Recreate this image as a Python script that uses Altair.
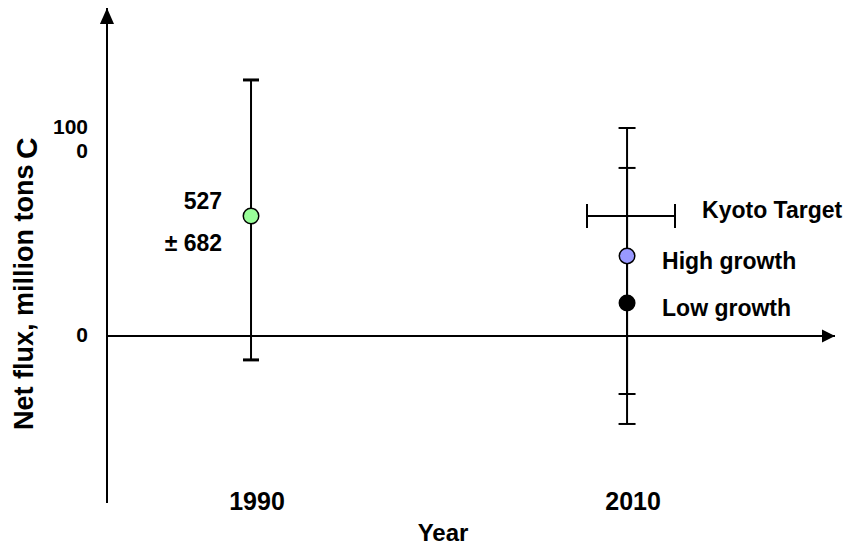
import altair as alt
import pandas as pd

# ---- axis extents (data units) ----
x_domain = [1982.34, 2021.06]
y_domain = [-803, 1577]

# ---- category / tick labels ----
years = [1990, 2010]
year_labels = ["1990", "2010"]
y_tick_values = [0, 1000]
y_tick_labels = ["0", "100\n0"]
x_title = "Year"
y_title_main = "Net flux, million tons"
y_title_unit = "C"

# ---- 1990 estimate ----
base_year = 1990
base_value = 577
base_lo = -115
base_hi = 1231
base_label = "527\n± 682"

# ---- 2010 scenarios ----
scen_year = 2010
scen_names = ["High growth", "Low growth"]
scen_values = [385, 159]
scen_lo = [-279, -423]
scen_hi = [1000, 808]
scen_fill = ["#9999ff", "#000000"]

# ---- Kyoto target ----
kyoto_label = "Kyoto Target"
kyoto_value = 577
kyoto_x_lo = 2007.87
kyoto_x_hi = 2012.55

FONT = "Liberation Sans"

xs = alt.Scale(domain=x_domain, nice=False, zero=False)
ys = alt.Scale(domain=y_domain, nice=False, zero=False)


def X(f="x"):
    return alt.X(f"{f}:Q", scale=xs, axis=None)


def Y(f="y"):
    return alt.Y(f"{f}:Q", scale=ys, axis=None)


# axis lines
axes_df = pd.DataFrame({
    "x": [x_domain[0], x_domain[0]],
    "x2": [x_domain[0], x_domain[1]],
    "y": [y_domain[0], 0],
    "y2": [y_domain[1], 0],
})
axes = alt.Chart(axes_df).mark_rule(color="black", strokeWidth=2).encode(
    x=X(), x2="x2:Q", y=Y(), y2="y2:Q")

arrow_up = alt.Chart(pd.DataFrame({"x": [x_domain[0]], "y": [y_domain[1]]})).mark_point(
    shape="M0,0L-0.44,1L0.44,1Z", size=1024, filled=True, color="black", opacity=1
).encode(x=X(), y=Y())
arrow_right = alt.Chart(pd.DataFrame({"x": [x_domain[1]], "y": [0]})).mark_point(
    shape="M0,0L-1,-0.5L-1,0.5Z", size=676, filled=True, color="black", opacity=1
).encode(x=X(), y=Y())

# y tick labels
ytick_df = pd.DataFrame({"x": [x_domain[0]] * len(y_tick_values), "y": y_tick_values, "t": y_tick_labels})
yticks = alt.Chart(ytick_df).mark_text(
    align="right", baseline="middle", dx=-19, fontSize=21, fontWeight="bold", font=FONT,
    lineBreak="\n", lineHeight=24, color="black"
).encode(x=X(), y=Y(), text="t:N")

# x tick labels
xtick_df = pd.DataFrame({"x": years, "y": [y_domain[0]] * len(years), "t": year_labels})
xticks = alt.Chart(xtick_df).mark_text(
    align="center", baseline="alphabetic", dx=6, dy=7, fontSize=25, fontWeight="bold",
    font=FONT, color="black"
).encode(x=X(), y=Y(), text="t:N")

# axis titles
title_df = pd.DataFrame({"x": [sum(years) / len(years)], "y": [y_domain[0]], "t": [x_title]})
xtitle = alt.Chart(title_df).mark_text(
    align="center", baseline="alphabetic", dx=4, dy=38, fontSize=24, fontWeight="bold",
    font=FONT, color="black"
).encode(x=X(), y=Y(), text="t:N")

ytitle_df = pd.DataFrame({"x": [x_domain[0]], "y": [y_domain[0]], "t": [y_title_main]})
ytitle = alt.Chart(ytitle_df).mark_text(
    align="left", baseline="alphabetic", angle=270, dx=73, dy=-74, fontSize=27,
    fontWeight="bold", font=FONT, color="black"
).encode(x=X(), y=Y(), text="t:N")
yunit_df = pd.DataFrame({"x": [x_domain[0]], "y": [y_domain[0]], "t": [y_title_unit]})
yunit = alt.Chart(yunit_df).mark_text(
    align="left", baseline="alphabetic", angle=270, dx=344, dy=-70, fontSize=30,
    fontWeight="bold", font=FONT, color="black"
).encode(x=X(), y=Y(), text="t:N")

# error bars
bars_df = pd.DataFrame({
    "x": [base_year] + [scen_year] * len(scen_names),
    "lo": [base_lo] + scen_lo,
    "hi": [base_hi] + scen_hi,
})
bars = alt.Chart(bars_df).mark_rule(color="black", strokeWidth=2).encode(
    x=X(), y=Y("lo"), y2="hi:Q")

caps1990_df = pd.DataFrame({"x": [base_year, base_year], "y": [base_lo, base_hi]})
caps1990 = alt.Chart(caps1990_df).mark_tick(
    orient="horizontal", size=16, thickness=3, color="black", opacity=1
).encode(x=X(), y=Y())

caps2010_df = pd.DataFrame({"x": [scen_year] * 4, "y": scen_lo + scen_hi})
caps2010 = alt.Chart(caps2010_df).mark_tick(
    orient="horizontal", size=17, thickness=2, color="black", opacity=1
).encode(x=X(), y=Y())

# Kyoto target
kyoto_df = pd.DataFrame({"x": [kyoto_x_lo], "x2": [kyoto_x_hi], "y": [kyoto_value]})
kyoto = alt.Chart(kyoto_df).mark_rule(color="black", strokeWidth=2).encode(
    x=X(), x2="x2:Q", y=Y())
kcaps_df = pd.DataFrame({"x": [kyoto_x_lo, kyoto_x_hi], "y": [kyoto_value, kyoto_value]})
kcaps = alt.Chart(kcaps_df).mark_tick(
    orient="vertical", size=24, thickness=2, color="black", opacity=1
).encode(x=X(), y=Y())
klabel = alt.Chart(pd.DataFrame({"x": [scen_year], "y": [kyoto_value], "t": [kyoto_label]})).mark_text(
    align="left", baseline="alphabetic", dx=75, dy=2, fontSize=23, fontWeight="bold",
    font=FONT, color="black"
).encode(x=X(), y=Y(), text="t:N")

# points
pts_df = pd.DataFrame({
    "x": [base_year] + [scen_year] * len(scen_names),
    "y": [base_value] + scen_values,
    "fill": ["#99ff99"] + scen_fill,
})
pts = alt.Chart(pts_df).mark_point(
    shape="circle", size=240, filled=True, stroke="black", strokeWidth=1.5, opacity=1
).encode(x=X(), y=Y(), fill=alt.Fill("fill:N", scale=None))

base_text = alt.Chart(pd.DataFrame({"x": [base_year], "y": [base_value], "t": [base_label]})).mark_text(
    align="right", baseline="alphabetic", dx=-29, dy=-7, fontSize=23, fontWeight="bold",
    font=FONT, lineBreak="\n", lineHeight=42.5, color="black"
).encode(x=X(), y=Y(), text="t:N")

scen_text_df = pd.DataFrame({"x": [scen_year] * len(scen_names), "y": scen_values, "t": scen_names})
scen_text = alt.Chart(scen_text_df).mark_text(
    align="left", baseline="alphabetic", dx=35, dy=13, fontSize=23, fontWeight="bold",
    font=FONT, color="black"
).encode(x=X(), y=Y(), text="t:N")

chart = alt.layer(
    axes, arrow_up, arrow_right, yticks, xticks, xtitle, ytitle, yunit,
    bars, caps1990, caps2010, kyoto, kcaps, klabel, pts, base_text, scen_text
).properties(
    width=728, height=495,
    padding={"left": 99, "top": 0, "right": 10, "bottom": 42},
    autosize="none",
    background="white",
).configure_view(strokeWidth=0)

chart.save("out.html", embed_options={"renderer": "svg", "actions": False})
